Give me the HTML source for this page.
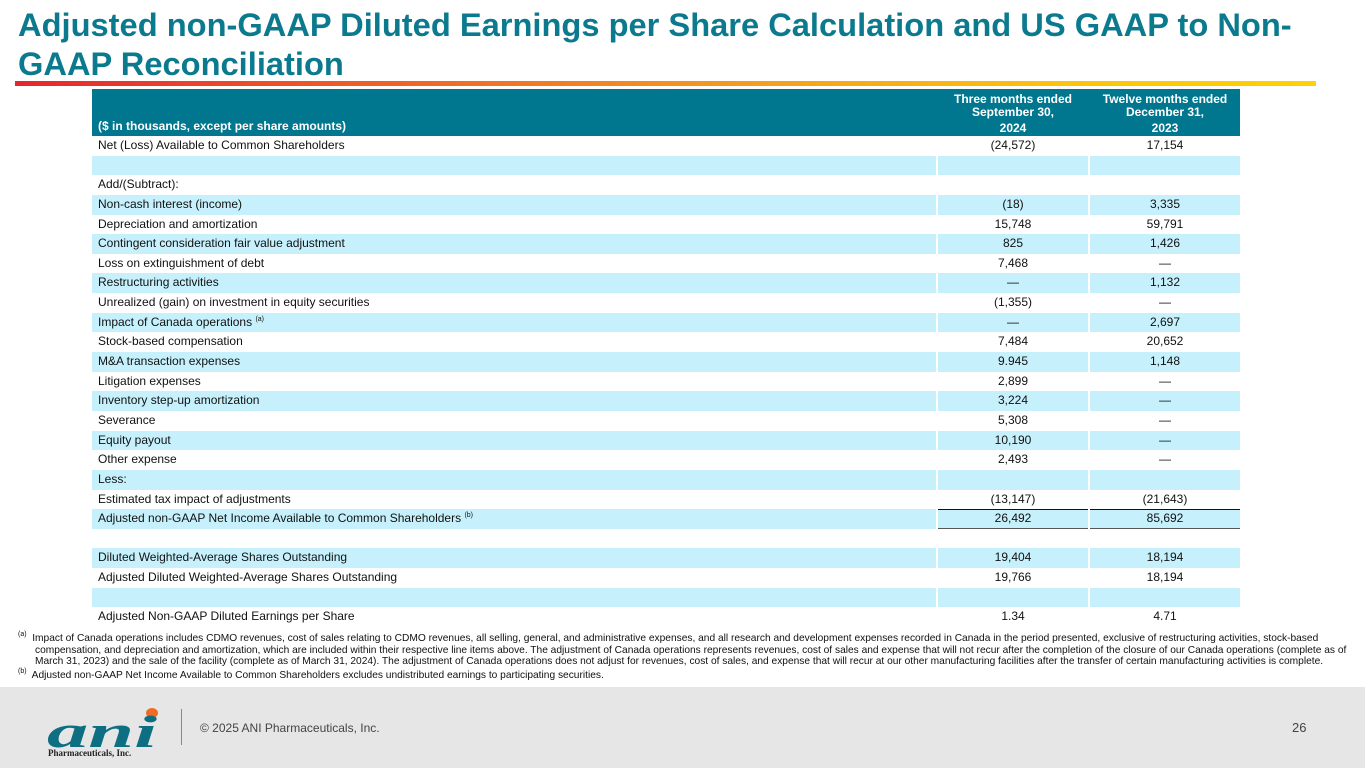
<!DOCTYPE html>
<html><head><meta charset="utf-8">
<style>
*{margin:0;padding:0;box-sizing:border-box}
body{width:1365px;height:768px;position:relative;background:#fff;font-family:"Liberation Sans",Arial,sans-serif;overflow:hidden}
.title{position:absolute;left:18px;top:6px;color:#0b7a8e;font-weight:bold;font-size:32px;line-height:39px;white-space:nowrap;transform:scaleX(1.02);transform-origin:0 0}
.bar{position:absolute;left:15px;top:81px;width:1301px;height:5px;background:linear-gradient(90deg,#e52630 0%,#ee5a28 25%,#f59a1e 55%,#fcc30a 80%,#ffd200 100%)}
.hdr{position:absolute;left:92px;top:89px;width:1148px;height:47px;background:#00778f;color:#fff;font-weight:bold;font-size:12px}
.hdr div{position:absolute;text-align:center;line-height:13px}
.row{position:absolute;left:92px;width:1148px;height:19.64px;font-size:12px;color:#111}
.row div{position:absolute;top:0;height:100%;line-height:19.6px}
.c1{left:0;width:844px;padding-left:6px}
.c2{left:846px;width:150px;text-align:center}
.c3{left:998px;width:150px;text-align:center}
.b .c1,.b .c2,.b .c3{background:#c6f1fc}
sup{font-size:7px;vertical-align:5px;line-height:0}
.foot{position:absolute;left:18px;width:1345px;font-size:10.2px;line-height:11.5px;color:#111;white-space:nowrap}
.footer{position:absolute;left:0;top:687px;width:1365px;height:81px;background:#e6e6e6}
</style></head><body>
<div class="title">Adjusted non-GAAP Diluted Earnings per Share Calculation and US GAAP to Non-<br>GAAP Reconciliation</div>
<div class="bar"></div>
<div class="hdr">
<div style="left:6px;top:31px;text-align:left">($ in thousands, except per share amounts)</div>
<div style="left:846px;width:150px;top:4px">Three months ended<br>September 30,<br><span style="position:relative;top:3px">2024</span></div>
<div style="left:998px;width:150px;top:4px">Twelve months ended<br>December 31,<br><span style="position:relative;top:3px">2023</span></div>
</div>
<div id="rows"></div>
<div class="foot" style="top:633px"><sup>(a)</sup>&nbsp; Impact of Canada operations includes CDMO revenues, cost of sales relating to CDMO revenues, all selling, general, and administrative expenses, and all research and development expenses recorded in Canada in the period presented, exclusive of restructuring activities, stock-based<br>&nbsp;&nbsp;&nbsp;&nbsp;&nbsp; compensation, and depreciation and amortization, which are included within their respective line items above. The adjustment of Canada operations represents revenues, cost of sales and expense that will not recur after the completion of the closure of our Canada operations (complete as of<br>&nbsp;&nbsp;&nbsp;&nbsp;&nbsp; March 31, 2023) and the sale of the facility (complete as of March 31, 2024). The adjustment of Canada operations does not adjust for revenues, cost of sales, and expense that will recur at our other manufacturing facilities after the transfer of certain manufacturing activities is complete.</div>
<div class="foot" style="top:670px"><sup>(b)</sup>&nbsp; Adjusted non-GAAP Net Income Available to Common Shareholders excludes undistributed earnings to participating securities.</div>
<div class="footer">
<svg style="position:absolute;left:45px;top:16px" width="120" height="56">
<ellipse cx="107" cy="10" rx="6" ry="5" fill="#f26b21"/>
<text x="2" y="44" font-family="Liberation Serif" font-style="italic" font-weight="bold" font-size="46" fill="#0f6f82" textLength="110" lengthAdjust="spacingAndGlyphs">ani</text>
<text x="3" y="53" font-family="Liberation Serif" font-weight="bold" font-size="9" fill="#222">Pharmaceuticals, Inc.</text>
</svg>
<div style="position:absolute;left:181px;top:22px;width:1px;height:36px;background:#888"></div>
<div style="position:absolute;left:200px;top:34px;font-size:12px;color:#444">© 2025 ANI Pharmaceuticals, Inc.</div>
<div style="position:absolute;left:1292px;top:33px;font-size:13px;color:#444">26</div>
</div>
<script>
const labels=["Net (Loss) Available to Common Shareholders","","Add/(Subtract):","Non-cash interest (income)","Depreciation and amortization","Contingent consideration fair value adjustment","Loss on extinguishment of debt","Restructuring activities","Unrealized (gain) on investment in equity securities","Impact of Canada operations <sup>(a)</sup>","Stock-based compensation","M&amp;A transaction expenses","Litigation expenses","Inventory step-up amortization","Severance","Equity payout","Other expense","Less:","Estimated tax impact of adjustments","Adjusted non-GAAP Net Income Available to Common Shareholders <sup>(b)</sup>","","Diluted Weighted-Average Shares Outstanding","Adjusted Diluted Weighted-Average Shares Outstanding","","Adjusted Non-GAAP Diluted Earnings per Share"];
const q3_2024=["(24,572)","","","(18)","15,748","825","7,468","—","(1,355)","—","7,484","9.945","2,899","3,224","5,308","10,190","2,493","","(13,147)","26,492","","19,404","19,766","","1.34"];
const fy_2023=["17,154","","","3,335","59,791","1,426","—","1,132","—","2,697","20,652","1,148","—","—","—","—","—","","(21,643)","85,692","","18,194","18,194","","4.71"];
const host=document.getElementById('rows');
labels.forEach((l,i)=>{
 const r=document.createElement('div');
 r.className='row'+(i%2===1?' b':'');
 r.style.top=(136+i*19.64)+'px';
 
 
 let extra='';
 if(i===19){extra='border-top:1.5px solid #111;border-bottom:1px solid #555;line-height:17px;';}
 r.innerHTML='<div class="c1">'+l+'</div><div class="c2" style="'+extra+'">'+q3_2024[i]+'</div><div class="c3" style="'+extra+'">'+fy_2023[i]+'</div>';
 host.appendChild(r);
});
</script>
</body></html>
